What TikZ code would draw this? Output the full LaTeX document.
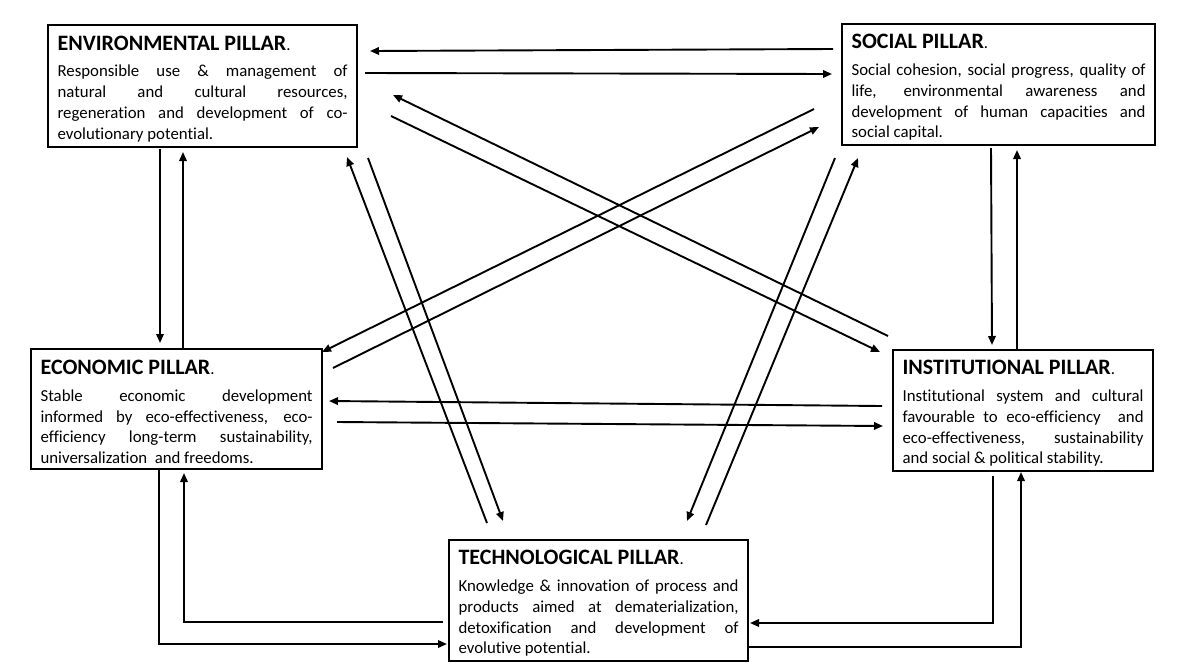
\documentclass[tikz,border=0pt]{standalone}
\usepackage{fontspec}
\setmainfont{Carlito}[Ligatures=NoCommon]
\usetikzlibrary{arrows.meta}

% one justified line of a box text
\newcommand\jl[1]{{\spaceskip=0pt\relax\xspaceskip=0pt\relax\makebox[\hsize][s]{#1}}}
% box heading
\newcommand\ptitle[1]{\rule{0pt}{20pt}{\fontsize{22}{20.8}\selectfont\bfseries #1}.}

\tikzset{
  pillar/.style={draw, line width=2.2pt, rectangle, anchor=north west,
    inner xsep=9.5pt, inner ysep=0pt, align=justify,
    font=\fontsize{16.8}{20.8}\selectfont},
  link/.style={line width=1.9pt, -{Triangle[length=9pt,width=7.5pt]}},
}

\begin{document}
\begin{tikzpicture}[x=1pt,y=-1pt]
\useasboundingbox[fill=white] (0,0) rectangle (1188,670);

% the five pillars
\node[pillar, minimum width=309pt, minimum height=122pt, text width=290pt] (env) at (47,24)
  {\ptitle{ENVIRONMENTAL PILLAR}\\[6pt]
   \jl{Responsible use \& management of}\\
   \jl{natural and cultural resources,}\\
   \jl{regeneration and development of co-}\\
   evolutionary potential.};

\node[pillar, minimum width=313pt, minimum height=121pt, text width=294pt] (soc) at (841,23)
  {\ptitle{SOCIAL PILLAR}\\[6pt]
   \jl{Social cohesion, social progress, quality of}\\
   \jl{life, environmental awareness and}\\
   \jl{development of human capacities and}\\
   social capital.};

\node[pillar, minimum width=291pt, minimum height=120pt, text width=272pt] (eco) at (30,348)
  {\ptitle{ECONOMIC PILLAR}\\[6pt]
   \jl{Stable economic development}\\
   \jl{informed by eco-effectiveness, eco-}\\
   \jl{efficiency long-term sustainability,}\\
   universalization\ \ and freedoms.};

\node[pillar, minimum width=260pt, minimum height=121pt, text width=241pt] (ins) at (892,349)
  {\ptitle{INSTITUTIONAL PILLAR}\\[6pt]
   \jl{Institutional system and cultural}\\
   \jl{favourable to eco-efficiency\ \ and}\\
   \jl{eco-effectiveness, sustainability}\\
   and social \& political stability.};

\node[pillar, minimum width=299pt, minimum height=121pt, text width=280pt] (tec) at (448,539)
  {\ptitle{TECHNOLOGICAL PILLAR}\\[6pt]
   \jl{Knowledge \& innovation of process and}\\
   \jl{products aimed at dematerialization,}\\
   \jl{detoxification and development of}\\
   evolutive potential.};

% connector end points
\coordinate (se1) at (833,49);  \coordinate (se2) at (370,51);
\coordinate (es1) at (365,73);  \coordinate (es2) at (832,74);
\coordinate (ee1) at (160,149); \coordinate (ee2) at (160,343);
\coordinate (ce1) at (183,348); \coordinate (ce2) at (183,152);
\coordinate (si1) at (991,148); \coordinate (si2) at (992,345);
\coordinate (is1) at (1017,349);\coordinate (is2) at (1017,150);
\coordinate (ct1) at (159,468); \coordinate (ct2) at (447,644);
\coordinate (tc1) at (443,622); \coordinate (tc2) at (184,473);
\coordinate (it1) at (993,476); \coordinate (it2) at (750,623);
\coordinate (ti1) at (747,647); \coordinate (ti2) at (1021,472);
\coordinate (ic1) at (882,406); \coordinate (ic2) at (329,401);
\coordinate (ci1) at (337,422); \coordinate (ci2) at (883,426);
\coordinate (sc1) at (814,109); \coordinate (sc2) at (322,352);
\coordinate (cs1) at (333,368); \coordinate (cs2) at (819,127);
\coordinate (ie1) at (888,336); \coordinate (ie2) at (393,95);
\coordinate (ei1) at (391,116); \coordinate (ei2) at (880,352);
\coordinate (te1) at (487,523); \coordinate (te2) at (347,157);
\coordinate (et1) at (368,158); \coordinate (et2) at (503,521);
\coordinate (st1) at (835,158); \coordinate (st2) at (687,521);
\coordinate (ts1) at (706,525); \coordinate (ts2) at (858,158);

% straight links
\draw[link] (se1) -- (se2);
\draw[link] (es1) -- (es2);
\draw[link] (ee1) -- (ee2);
\draw[link] (ce1) -- (ce2);
\draw[link] (si1) -- (si2);
\draw[link] (is1) -- (is2);
\draw[link] (ic1) -- (ic2);
\draw[link] (ci1) -- (ci2);
\draw[link] (sc1) -- (sc2);
\draw[link] (cs1) -- (cs2);
\draw[link] (ie1) -- (ie2);
\draw[link] (ei1) -- (ei2);
\draw[link] (te1) -- (te2);
\draw[link] (et1) -- (et2);
\draw[link] (st1) -- (st2);
\draw[link] (ts1) -- (ts2);

% elbow links around the technological pillar
\draw[link] (ct1) |- (ct2);
\draw[link] (tc1) -| (tc2);
\draw[link] (it1) |- (it2);
\draw[link] (ti1) -| (ti2);
\end{tikzpicture}
\end{document}
